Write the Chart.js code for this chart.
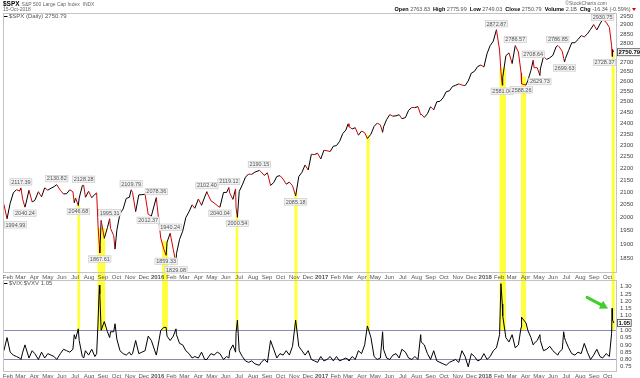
<!DOCTYPE html>
<html>
<head>
<meta charset="utf-8">
<script src="https://cdn.jsdelivr.net/npm/chart.js@4.4.1/dist/chart.umd.min.js"></script>
<style>
body { margin: 0; background: #fff; width: 640px; height: 378px; overflow: hidden; position: relative; }
#main { position: absolute; left: 0; top: 0; }
#lower { position: absolute; left: 0; top: 280px; }
</style>
</head>
<body>
<canvas id="main" width="640" height="280"></canvas>
<canvas id="lower" width="640" height="98"></canvas>
<script>
'use strict';
// weekly closes plus the swing days
let dates = [
  '2015-01-23','2015-01-30','2015-02-06','2015-02-13','2015-02-20','2015-02-27','2015-03-02','2015-03-06','2015-03-11','2015-03-13',
  '2015-03-20','2015-03-27','2015-04-02','2015-04-10','2015-04-17','2015-04-24','2015-05-01','2015-05-08','2015-05-15','2015-05-21',
  '2015-05-29','2015-06-05','2015-06-12','2015-06-19','2015-06-26','2015-06-29','2015-07-02','2015-07-08','2015-07-10','2015-07-17',
  '2015-07-20','2015-07-24','2015-07-31','2015-08-07','2015-08-14','2015-08-18','2015-08-21','2015-08-24','2015-08-25','2015-08-28',
  '2015-09-04','2015-09-11','2015-09-16','2015-09-18','2015-09-25','2015-09-28','2015-10-02','2015-10-09','2015-10-16','2015-10-23',
  '2015-10-30','2015-11-03','2015-11-06','2015-11-13','2015-11-20','2015-11-27','2015-12-04','2015-12-11','2015-12-18','2015-12-29',
  '2015-12-31',
  '2016-01-08','2016-01-15','2016-01-20','2016-01-22','2016-01-29','2016-02-05','2016-02-11','2016-02-12','2016-02-19','2016-02-26',
  '2016-03-04','2016-03-11','2016-03-18','2016-03-24','2016-04-01','2016-04-08','2016-04-15','2016-04-20','2016-04-22','2016-04-29',
  '2016-05-06','2016-05-13','2016-05-19','2016-05-27','2016-06-03','2016-06-08','2016-06-10','2016-06-17','2016-06-23','2016-06-24',
  '2016-06-27','2016-07-01','2016-07-08','2016-07-15','2016-07-22','2016-07-29','2016-08-05','2016-08-15','2016-08-19','2016-08-26',
  '2016-09-02','2016-09-09','2016-09-16','2016-09-23','2016-09-30','2016-10-07','2016-10-14','2016-10-21','2016-10-28','2016-11-04',
  '2016-11-11','2016-11-18','2016-11-25','2016-12-02','2016-12-09','2016-12-16','2016-12-23','2016-12-30',
  '2017-01-06','2017-01-13','2017-01-20','2017-01-27','2017-02-03','2017-02-10','2017-02-17','2017-02-24','2017-03-01','2017-03-03',
  '2017-03-10','2017-03-17','2017-03-24','2017-03-31','2017-04-07','2017-04-13','2017-04-21','2017-04-28','2017-05-05','2017-05-12',
  '2017-05-17','2017-05-19','2017-05-26','2017-06-02','2017-06-09','2017-06-16','2017-06-23','2017-06-29','2017-07-07','2017-07-14',
  '2017-07-21','2017-07-28','2017-08-04','2017-08-10','2017-08-11','2017-08-18','2017-08-25','2017-09-01','2017-09-08','2017-09-15',
  '2017-09-22','2017-09-29','2017-10-06','2017-10-13','2017-10-20','2017-10-27','2017-11-03','2017-11-10','2017-11-17','2017-11-24',
  '2017-12-01','2017-12-08','2017-12-15','2017-12-22','2017-12-29',
  '2018-01-05','2018-01-12','2018-01-19','2018-01-26','2018-02-02','2018-02-05','2018-02-08','2018-02-09','2018-02-16','2018-02-23',
  '2018-03-02','2018-03-09','2018-03-16','2018-03-22','2018-03-23','2018-04-02','2018-04-06','2018-04-13','2018-04-18','2018-04-20',
  '2018-04-27','2018-05-03','2018-05-04','2018-05-11','2018-05-18','2018-05-25','2018-06-01','2018-06-08','2018-06-12','2018-06-15',
  '2018-06-22','2018-06-25','2018-06-27','2018-06-29','2018-07-06','2018-07-13','2018-07-20','2018-07-27','2018-08-03','2018-08-10',
  '2018-08-17','2018-08-24','2018-08-31','2018-09-07','2018-09-14','2018-09-20','2018-09-28','2018-10-05','2018-10-10','2018-10-11',
  '2018-10-12','2018-10-15'
];
let closes = [
  2051.82,1994.99,2055.47,2096.99,2110.30,2104.50,2117.39,2071.26,2040.24,2053.40,
  2108.10,2061.02,2066.96,2102.06,2081.18,2117.69,2108.29,2116.10,2122.73,2130.82,
  2107.39,2092.83,2094.11,2109.99,2101.49,2057.64,2076.78,2046.68,2076.62,2126.64,
  2128.28,2079.65,2103.84,2077.57,2091.54,2096.92,1970.89,1893.21,1867.61,1988.87,
  1921.22,1961.05,1995.31,1958.03,1931.34,1881.77,1951.36,2014.89,2033.11,2075.15,
  2079.36,2109.79,2099.20,2023.04,2089.17,2090.11,2091.69,2012.37,2005.55,2078.36,
  2043.94,
  1922.03,1880.33,1859.33,1906.90,1940.24,1880.05,1829.08,1864.78,1917.78,1948.05,
  1999.99,2022.19,2049.58,2035.94,2072.78,2047.60,2080.73,2102.40,2091.58,2065.30,
  2057.14,2046.61,2040.04,2099.06,2099.13,2119.12,2096.07,2071.22,2113.32,2037.41,
  2000.54,2102.95,2129.90,2161.74,2175.03,2173.60,2182.87,2190.15,2183.87,2169.04,
  2179.98,2127.81,2139.16,2164.69,2168.27,2153.74,2132.98,2141.16,2126.41,2085.18,
  2164.45,2181.90,2213.35,2191.95,2259.53,2258.07,2263.79,2238.83,
  2276.98,2274.64,2271.31,2294.69,2297.42,2316.10,2351.16,2367.34,2395.96,2383.12,
  2372.60,2378.25,2343.98,2362.72,2355.54,2328.95,2348.69,2384.20,2399.29,2390.90,
  2357.03,2381.73,2415.82,2439.07,2431.77,2433.15,2438.30,2419.70,2425.18,2459.27,
  2472.54,2472.10,2476.83,2438.21,2441.32,2425.55,2443.05,2476.55,2461.43,2500.23,
  2502.22,2519.36,2549.33,2553.17,2575.21,2581.07,2587.84,2582.30,2578.85,2602.42,
  2642.22,2651.50,2675.81,2683.34,2673.61,
  2743.15,2786.24,2810.30,2872.87,2762.13,2648.94,2581.00,2619.55,2732.22,2747.30,
  2691.25,2786.57,2752.01,2643.69,2588.26,2581.88,2604.47,2656.30,2708.64,2670.14,
  2669.91,2629.73,2663.42,2727.72,2712.97,2721.33,2734.62,2779.03,2786.85,2779.66,
  2754.88,2717.07,2699.63,2718.37,2759.82,2801.31,2801.83,2818.82,2840.35,2833.28,
  2850.13,2874.69,2901.52,2871.68,2904.98,2930.75,2913.98,2885.57,2785.68,2728.37,
  2767.13,2750.79
];
let ratios = [
  0.86,0.95,0.85,0.83,0.82,0.81,0.80,0.85,0.90,0.88,
  0.81,0.86,0.84,0.80,0.85,0.81,0.84,0.83,0.82,0.80,
  0.84,0.87,0.86,0.85,0.87,0.97,0.94,1.01,0.93,0.82,
  0.81,0.86,0.83,0.87,0.82,0.84,1.05,1.31,1.25,1.00,
  1.06,0.99,0.95,0.99,0.99,1.045,0.94,0.86,0.84,0.83,
  0.85,0.83,0.84,0.93,0.84,0.85,0.86,0.96,0.93,0.83,
  0.86,
  1.00,1.02,1.02,0.96,0.93,0.96,1.01,0.97,0.91,0.90,
  0.86,0.84,0.81,0.82,0.81,0.85,0.80,0.80,0.81,0.84,
  0.83,0.85,0.84,0.80,0.82,0.81,0.86,0.90,0.85,0.98,
  1.07,0.86,0.82,0.79,0.78,0.79,0.77,0.76,0.78,0.80,
  0.78,0.93,0.87,0.81,0.84,0.83,0.86,0.83,0.89,1.07,
  0.89,0.86,0.83,0.86,0.80,0.79,0.78,0.82,
  0.79,0.80,0.82,0.79,0.82,0.79,0.80,0.81,0.80,0.79,
  0.82,0.80,0.86,0.84,0.90,1.03,0.95,0.82,0.80,0.81,
  0.99,0.87,0.81,0.80,0.83,0.84,0.81,0.87,0.85,0.81,
  0.80,0.82,0.80,0.97,0.92,0.90,0.84,0.80,0.86,0.79,
  0.78,0.77,0.76,0.78,0.79,0.80,0.78,0.86,0.82,0.75,
  0.84,0.82,0.79,0.80,0.84,
  0.80,0.82,0.86,0.88,0.97,1.32,1.18,1.10,0.95,0.92,
  0.97,0.88,0.90,1.02,1.09,1.05,1.00,0.95,0.90,0.91,
  0.93,0.97,0.93,0.86,0.87,0.89,0.86,0.84,0.83,0.85,
  0.87,0.99,0.95,0.93,0.88,0.84,0.83,0.85,0.84,0.91,
  0.85,0.80,0.83,0.87,0.82,0.81,0.84,0.82,0.98,1.15,
  1.07,1.05
];

let priceTicks = [1850,1900,1950,2000,2050,2100,2150,2200,2250,2300,2350,2400,2450,2500,2550,2600,2650,2700,2750,2800,2850,2900,2950];
let ratioTicks = [0.75,0.80,0.85,0.90,0.95,1.00,1.05,1.10,1.15,1.20,1.25,1.30];
let ratioLevels = [1.00, 0.80];

// yellow highlight periods (ratio above 1.00) and the price where each bar starts
let spikeStart = ['2015-07-06','2015-08-20','2016-01-11','2016-06-23','2016-11-01','2017-04-11','2018-02-02','2018-03-22','2018-10-10'];
let spikeEnd   = ['2015-07-12','2015-09-06','2016-01-24','2016-06-29','2016-11-08','2017-04-18','2018-02-16','2018-04-02','2018-10-17'];
let spikeTop   = [2049, 1960, 1911, 2010, 2097, 2345, 2668, 2624, 2745];

// swing labels on the price line
let labelDates = ['2015-01-30','2015-03-02','2015-03-11','2015-05-21','2015-07-08','2015-07-20','2015-08-25','2015-09-16',
  '2015-11-03','2015-12-11','2015-12-29','2016-01-20','2016-01-29','2016-02-11','2016-04-20','2016-05-19','2016-06-08',
  '2016-06-27','2016-08-15','2016-11-04','2018-01-26','2018-02-08','2018-03-09','2018-03-23','2018-04-18','2018-05-03',
  '2018-06-12','2018-06-27','2018-09-20','2018-10-11'];
let labelSide = ['below','above','below','above','below','above','below','above',
  'above','below','above','below','above','below','above','below','above',
  'below','above','below','above','below','above','below','above','below',
  'above','below','above','below'];

let arrowDate = '2018-10-11';
let monthNames = ['Jan','Feb','Mar','Apr','May','Jun','Jul','Aug','Sep','Oct','Nov','Dec'];
let fam = '"Liberation Sans", Arial, sans-serif';

function dayNum(s) {
    let p = s.split('-');
    return (Date.UTC(+p[0], +p[1] - 1, +p[2]) - Date.UTC(2015, 0, 1)) / 86400000;
}

let xMin = 20;
let xMax = 1390;
let monthTicks = [];
let monthLabels = {};
for (let y = 2015; y <= 2018; y++) {
    for (let m = 0; m < 12; m++) {
        let d = (Date.UTC(y, m, 1) - Date.UTC(2015, 0, 1)) / 86400000;
        if (d > xMin && d < xMax) {
            monthTicks.push(d);
            monthLabels[d] = m === 0 ? String(y) : monthNames[m];
        }
    }
}

let pricePoints = [];
let ratioPoints = [];
for (let i = 0; i < dates.length; i++) {
    pricePoints.push({ x: dayNum(dates[i]), y: closes[i] });
    ratioPoints.push({ x: dayNum(dates[i]), y: ratios[i] });
}

function xAxis(h) {
    return {
        type: 'linear', min: xMin, max: xMax,
        grid: { display: false, drawTicks: false },
        border: { display: false },
        afterBuildTicks: function (s) { s.ticks = monthTicks.map(v => ({ value: v })); },
        afterFit: function (s) { s.height = h; s.paddingLeft = 0; s.paddingRight = 0; },
        ticks: {
            autoSkip: false, maxRotation: 0, padding: 1, color: '#555',
            font: function (c) {
                let yr = c.tick && monthLabels[c.tick.value] && monthLabels[c.tick.value].length === 4;
                return { family: fam, size: 6, weight: yr ? 'bold' : 'normal' };
            },
            callback: v => monthLabels[v] || ''
        }
    };
}

function frame(chart) {
    let a = chart.chartArea;
    let ctx = chart.ctx;
    ctx.save();
    ctx.strokeStyle = '#c4c4c4';
    ctx.lineWidth = 1;
    ctx.strokeRect(a.left + 0.5, a.top + 0.5, a.right - a.left - 1, a.bottom - a.top - 1);
    ctx.restore();
}

function valueBox(ctx, text, x, y) {
    ctx.font = 'bold 6px ' + fam;
    let w = ctx.measureText(text).width + 3;
    ctx.fillStyle = '#fff';
    ctx.fillRect(x, y - 4, w, 8);
    ctx.strokeStyle = '#444';
    ctx.lineWidth = 0.8;
    ctx.strokeRect(x + 0.5, y - 3.5, w - 1, 7);
    ctx.fillStyle = '#000';
    ctx.textAlign = 'left';
    ctx.textBaseline = 'middle';
    ctx.fillText(text, x + 1.5, y + 0.5);
}

let mainPlugin = {
    id: 'mainExtras',
    beforeDraw: function (chart) {
        let ctx = chart.ctx;
        let xs = chart.scales.x, ys = chart.scales.y;
        ctx.save();
        ctx.fillStyle = '#ffff3c';
        for (let i = 0; i < spikeStart.length; i++) {
            let x1 = xs.getPixelForValue(dayNum(spikeStart[i]));
            let x2 = xs.getPixelForValue(dayNum(spikeEnd[i]));
            let yt = ys.getPixelForValue(spikeTop[i]);
            ctx.fillRect(x1, yt, Math.max(x2 - x1, 2), chart.height - yt);
        }
        ctx.restore();
    },
    afterDraw: function (chart) {
        let ctx = chart.ctx;
        let a = chart.chartArea;
        let xs = chart.scales.x, ys = chart.scales.y;
        frame(chart);
        ctx.save();

        // header
        ctx.textBaseline = 'middle';
        ctx.textAlign = 'left';
        ctx.fillStyle = '#000';
        ctx.font = 'bold 6.5px ' + fam;
        ctx.fillText('$SPX', 3, 4.5);
        let w = ctx.measureText('$SPX').width;
        ctx.font = '5px ' + fam;
        ctx.fillStyle = '#666';
        ctx.fillText('S&P 500 Large Cap Index  INDX', 5 + w, 4.5);
        ctx.fillText('15-Oct-2018', 3, 9.5);
        ctx.textAlign = 'right';
        ctx.fillText('\u00a9StockCharts.com', 607, 3.5);

        let parts = [['Open', 1], [' 2763.83  ', 0], ['High', 1], [' 2775.99  ', 0], ['Low', 1], [' 2749.03  ', 0],
            ['Close', 1], [' 2750.79  ', 0], ['Volume', 1], [' 2.1B  ', 0], ['Chg', 1], [' -16.34 (-0.59%) ', 0]];
        let total = 0;
        parts.forEach(p => {
            ctx.font = (p[1] ? 'bold 5.5px ' : '5.5px ') + fam;
            total += ctx.measureText(p[0]).width;
        });
        let px = 632 - total;
        ctx.textAlign = 'left';
        parts.forEach(p => {
            ctx.font = (p[1] ? 'bold 5.5px ' : '5.5px ') + fam;
            ctx.fillStyle = p[1] ? '#000' : '#555';
            ctx.fillText(p[0], px, 9.5);
            px += ctx.measureText(p[0]).width;
        });
        ctx.fillStyle = '#e00000';
        ctx.beginPath();
        ctx.moveTo(px, 8); ctx.lineTo(px + 4, 8); ctx.lineTo(px + 2, 11); ctx.closePath();
        ctx.fill();

        // legend
        ctx.strokeStyle = '#000';
        ctx.lineWidth = 1;
        ctx.beginPath();
        ctx.moveTo(4, a.top + 3.5); ctx.lineTo(7.5, a.top + 3.5);
        ctx.stroke();
        ctx.font = '6px ' + fam;
        ctx.fillStyle = '#555';
        ctx.fillText('$SPX (Daily) 2750.79', 9, a.top + 3.5);

        // swing labels
        ctx.font = '5.5px ' + fam;
        for (let i = 0; i < labelDates.length; i++) {
            let k = dates.indexOf(labelDates[i]);
            if (k < 0) continue;
            let txt = closes[k].toFixed(2);
            let bx = xs.getPixelForValue(dayNum(dates[k]));
            let by = ys.getPixelForValue(closes[k]);
            let tw = ctx.measureText(txt).width + 3;
            let cy = labelSide[i] === 'above' ? by - 6 : by + 6;
            let left = Math.min(Math.max(bx - tw / 2, a.left + 1), a.right - tw - 1);
            let top = Math.max(cy - 3.5, a.top + 1);
            ctx.fillStyle = '#f2f2f2';
            ctx.fillRect(left, top, tw, 7);
            ctx.strokeStyle = '#c8c8c8';
            ctx.lineWidth = 0.6;
            ctx.strokeRect(left + 0.3, top + 0.3, tw - 0.6, 6.4);
            ctx.fillStyle = '#555';
            ctx.fillText(txt, left + 1.5, top + 3.8);
        }

        // last value on the axis
        let last = closes[closes.length - 1];
        valueBox(ctx, last.toFixed(2), a.right, ys.getPixelForValue(last));
        ctx.restore();
    }
};

let lowerPlugin = {
    id: 'lowerExtras',
    beforeDraw: function (chart) {
        let ctx = chart.ctx;
        let xs = chart.scales.x, ys = chart.scales.y;
        let yb = ys.getPixelForValue(ratioLevels[0]);
        ctx.save();
        ctx.fillStyle = '#ffff3c';
        for (let i = 0; i < spikeStart.length; i++) {
            let x1 = xs.getPixelForValue(dayNum(spikeStart[i]));
            let x2 = xs.getPixelForValue(dayNum(spikeEnd[i]));
            ctx.fillRect(x1, 0, Math.max(x2 - x1, 2), yb);
        }
        ctx.restore();
    },
    beforeDatasetsDraw: function (chart) {
        let ctx = chart.ctx;
        let a = chart.chartArea;
        let ys = chart.scales.y;
        ctx.save();
        ctx.strokeStyle = '#8a8ab8';
        ctx.lineWidth = 1;
        ratioLevels.forEach(v => {
            let y = Math.round(ys.getPixelForValue(v)) + 0.5;
            ctx.beginPath();
            ctx.moveTo(a.left, y); ctx.lineTo(a.right, y);
            ctx.stroke();
        });
        ctx.restore();
    },
    afterDraw: function (chart) {
        let ctx = chart.ctx;
        let a = chart.chartArea;
        let xs = chart.scales.x, ys = chart.scales.y;
        frame(chart);
        ctx.save();
        ctx.strokeStyle = '#000';
        ctx.lineWidth = 1;
        ctx.beginPath();
        ctx.moveTo(4, a.top + 3.5); ctx.lineTo(7.5, a.top + 3.5);
        ctx.stroke();
        ctx.font = '6px ' + fam;
        ctx.fillStyle = '#555';
        ctx.textAlign = 'left';
        ctx.textBaseline = 'middle';
        ctx.fillText('$VIX:$VXV 1.05', 9, a.top + 3.5);

        let last = ratios[ratios.length - 1];
        valueBox(ctx, last.toFixed(2), a.right, ys.getPixelForValue(last));

        // green arrow pointing at the latest spike
        let k = dates.indexOf(arrowDate);
        let tx = xs.getPixelForValue(dayNum(dates[k])) - 4;
        let ty = ys.getPixelForValue(ratios[k]);
        let sx = tx - 21, sy = ty - 11;
        let ang = Math.atan2(ty - sy, tx - sx);
        ctx.strokeStyle = '#3fd02a';
        ctx.fillStyle = '#3fd02a';
        ctx.lineWidth = 3;
        ctx.lineCap = 'round';
        ctx.beginPath();
        ctx.moveTo(sx, sy);
        ctx.lineTo(tx - 6 * Math.cos(ang), ty - 6 * Math.sin(ang));
        ctx.stroke();
        ctx.beginPath();
        ctx.moveTo(tx, ty);
        ctx.lineTo(tx - 8 * Math.cos(ang) + 4.5 * Math.sin(ang), ty - 8 * Math.sin(ang) - 4.5 * Math.cos(ang));
        ctx.lineTo(tx - 8 * Math.cos(ang) - 4.5 * Math.sin(ang), ty - 8 * Math.sin(ang) + 4.5 * Math.cos(ang));
        ctx.closePath();
        ctx.fill();
        ctx.restore();
    }
};

new Chart(document.getElementById('main'), {
    type: 'line',
    data: {
        datasets: [{
            data: pricePoints,
            borderColor: '#000',
            borderWidth: 1,
            pointRadius: 0,
            segment: { borderColor: c => c.p1.parsed.y < c.p0.parsed.y ? '#d40000' : '#000' }
        }]
    },
    options: {
        responsive: false,
        animation: false,
        events: [],
        layout: { padding: { top: 13, left: 3, right: 0, bottom: 0 } },
        plugins: { legend: { display: false }, tooltip: { enabled: false } },
        scales: {
            x: xAxis(7),
            y: {
                type: 'logarithmic', position: 'right', min: 1797, max: 2967,
                grid: { display: false, drawTicks: false },
                border: { display: false },
                afterBuildTicks: function (s) { s.ticks = priceTicks.map(v => ({ value: v })); },
                afterFit: function (s) { s.width = 23; s.paddingTop = 0; s.paddingBottom = 0; },
                ticks: { autoSkip: false, padding: 3, color: '#444', font: { family: fam, size: 6 }, callback: v => String(v) }
            }
        }
    },
    plugins: [mainPlugin]
});

new Chart(document.getElementById('lower'), {
    type: 'line',
    data: {
        datasets: [{
            data: ratioPoints,
            borderColor: '#000',
            borderWidth: 1,
            pointRadius: 0
        }]
    },
    options: {
        responsive: false,
        animation: false,
        events: [],
        layout: { padding: { top: 0, left: 3, right: 0, bottom: 0 } },
        plugins: { legend: { display: false }, tooltip: { enabled: false } },
        scales: {
            x: xAxis(6),
            y: {
                type: 'linear', position: 'right', min: 0.714, max: 1.345,
                grid: { display: false, drawTicks: false },
                border: { display: false },
                afterBuildTicks: function (s) { s.ticks = ratioTicks.map(v => ({ value: v })); },
                afterFit: function (s) { s.width = 23; s.paddingTop = 0; s.paddingBottom = 0; },
                ticks: { autoSkip: false, padding: 3, color: '#444', font: { family: fam, size: 6 }, callback: v => v.toFixed(2) }
            }
        }
    },
    plugins: [lowerPlugin]
});
</script>
</body>
</html>
